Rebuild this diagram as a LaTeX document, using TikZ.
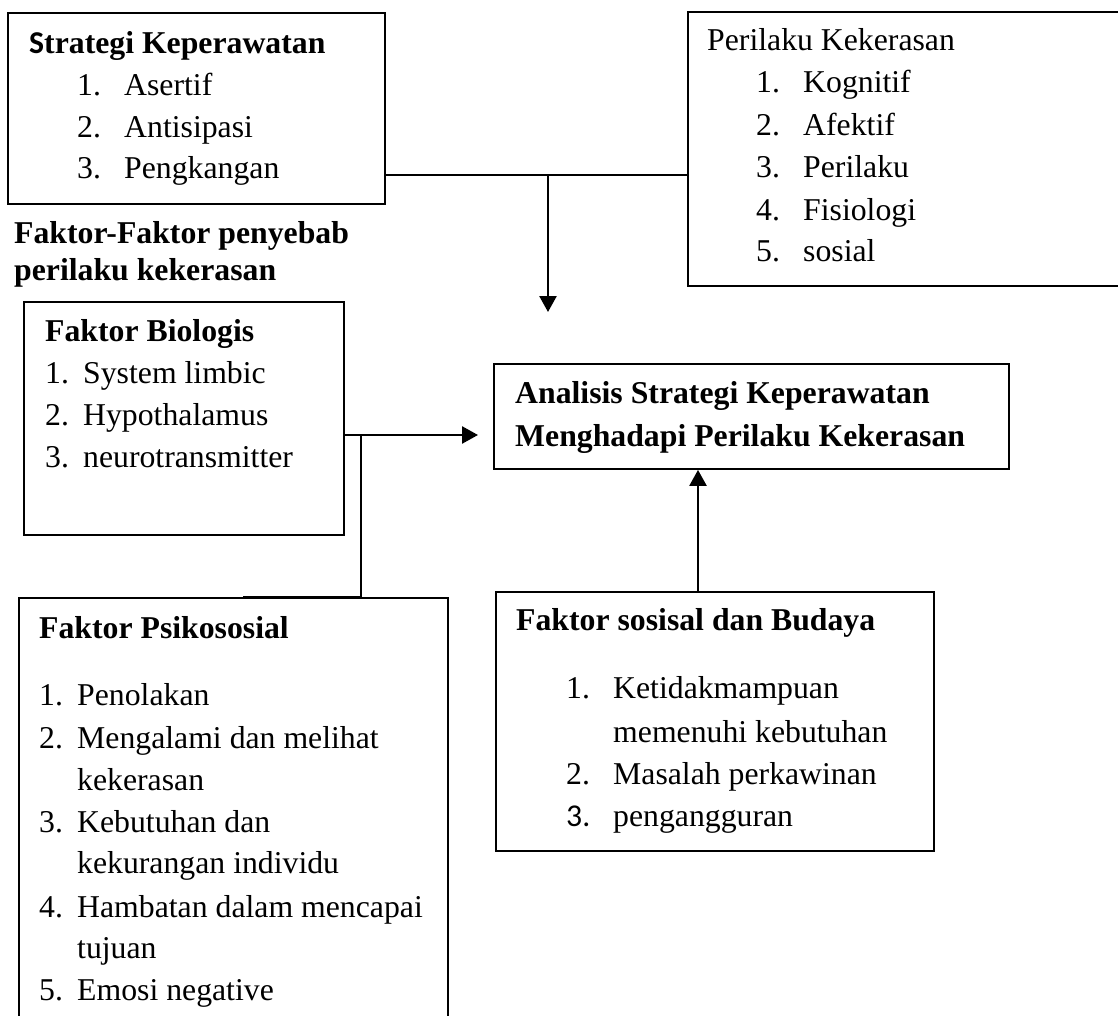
\documentclass[tikz,border=0pt]{standalone}
\usepackage{fontspec}
\setmainfont{Liberation Serif}
\newfontfamily\calibri{Carlito}
\usetikzlibrary{arrows.meta}
\newcommand\fs{\fontsize{31.75}{41.7}\selectfont}
\tikzset{
  box/.style={draw, line width=1.9pt, inner sep=0pt, anchor=north west},
  txt/.style={anchor=base west, inner sep=0pt, font=\fs},
  hd/.style={txt, font=\fs\bfseries},
  conn/.style={line width=2.5pt},
  arr/.style={conn, -{Triangle[width=17pt,length=16pt]}},
}
\begin{document}
\begin{tikzpicture}[x=1pt,y=-1pt]
\useasboundingbox (0,0) rectangle (1118,1015);
\fill[white] (0,0) rectangle (1118,1015);

% boxes
\node[box, minimum width=377pt, minimum height=191pt] (strat) at (7,12) {};
\node[box, minimum width=450pt, minimum height=274pt] (peril) at (687,11) {};
\node[box, minimum width=320pt, minimum height=233pt] (bio) at (23,301) {};
\node[box, minimum width=515pt, minimum height=105pt] (ana) at (493,363) {};
\node[box, minimum width=438pt, minimum height=259pt] (sos) at (495,591) {};
\node[box, minimum width=429pt, minimum height=450pt] (psi) at (18,597) {};

% Strategi Keperawatan
\node[hd] (st0) at (29,53) {{\calibri S}trategi Keperawatan};
\node[txt] (st1n) at (77,95) {1.};  \node[txt] (st1) at (124,95) {Asertif};
\node[txt] (st2n) at (77,137) {2.}; \node[txt] (st2) at (124,137) {Antisipasi};
\node[txt] (st3n) at (77,178) {3.}; \node[txt] (st3) at (124,178) {Pengkangan};

% Perilaku Kekerasan
\node[txt] (pk0) at (707,50) {Perilaku Kekerasan};
\node[txt] (pk1n) at (756,92) {1.};  \node[txt] (pk1) at (803,92) {Kognitif};
\node[txt] (pk2n) at (756,135) {2.}; \node[txt] (pk2) at (803,135) {Afektif};
\node[txt] (pk3n) at (756,177) {3.}; \node[txt] (pk3) at (803,177) {Perilaku};
\node[txt] (pk4n) at (756,220) {4.}; \node[txt] (pk4) at (803,220) {Fisiologi};
\node[txt] (pk5n) at (756,261) {5.}; \node[txt] (pk5) at (803,261) {sosial};

% free heading
\node[hd] (ff1) at (14,243) {Faktor-Faktor penyebab};
\node[hd] (ff2) at (14,280) {perilaku kekerasan};

% Faktor Biologis
\node[hd] (bi0) at (45,341) {Faktor Biologis};
\node[txt] (bi1n) at (45,383) {1.}; \node[txt] (bi1) at (83,383) {System limbic};
\node[txt] (bi2n) at (45,425) {2.}; \node[txt] (bi2) at (83,425) {Hypothalamus};
\node[txt] (bi3n) at (45,467) {3.}; \node[txt] (bi3) at (83,467) {neurotransmitter};

% Analisis
\node[hd] (an1) at (515,403) {Analisis Strategi Keperawatan};
\node[hd] (an2) at (515,446) {Menghadapi Perilaku Kekerasan};

% Faktor sosial dan budaya
\node[hd] (so0) at (516,630) {Faktor sosisal dan Budaya};
\node[txt] (so1n) at (566,698) {1.}; \node[txt] (so1) at (613,698) {Ketidakmampuan};
\node[txt] (so1b) at (613,742) {memenuhi kebutuhan};
\node[txt] (so2n) at (566,784) {2.}; \node[txt] (so2) at (613,784) {Masalah perkawinan};
\node[txt] (so3n) at (566,826) {\calibri 3.}; \node[txt] (so3) at (613,826) {pengangguran};

% Faktor Psikososial
\node[hd] (ps0) at (39,638) {Faktor Psikososial};
\node[txt] (ps1n) at (39,705) {1.}; \node[txt] (ps1) at (77,705) {Penolakan};
\node[txt] (ps2n) at (39,748) {2.}; \node[txt] (ps2) at (77,748) {Mengalami dan melihat};
\node[txt] (ps2b) at (77,790) {kekerasan};
\node[txt] (ps3n) at (39,832) {3.}; \node[txt] (ps3) at (77,832) {Kebutuhan dan};
\node[txt] (ps3b) at (77,873) {kekurangan individu};
\node[txt] (ps4n) at (39,917) {4.}; \node[txt] (ps4) at (77,917) {Hambatan dalam mencapai};
\node[txt] (ps4b) at (77,958) {tujuan};
\node[txt] (ps5n) at (39,1000) {5.}; \node[txt] (ps5) at (77,1000) {Emosi negative};

% connectors
\coordinate (j0) at (548,175);
\coordinate (t0) at (548,312);
\draw[conn] (strat.east |- j0) -- (peril.west |- j0);
\draw[arr] (j0) -- (t0);

\coordinate (j1) at (361,435);
\coordinate (c1) at (243,597);
\draw[arr, shorten >=15pt] (bio.east |- j1) -- (ana.west |- j1);
\draw[conn] (j1) |- (c1);

\coordinate (c2) at (698,591);
\draw[arr] (c2) -- (c2 |- ana.south);
\end{tikzpicture}
\end{document}
